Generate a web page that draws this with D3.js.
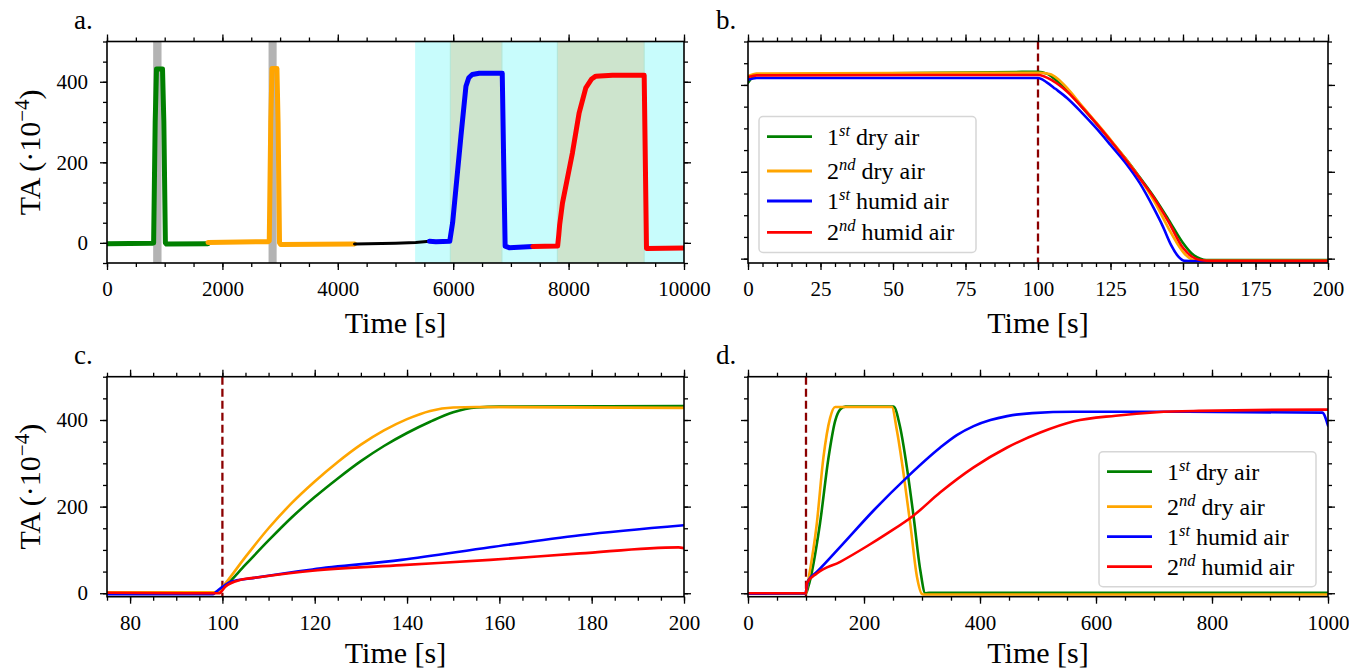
<!DOCTYPE html>
<html><head><meta charset="utf-8">
<script src="https://cdn.jsdelivr.net/npm/d3@7"></script>
<style>html,body{margin:0;padding:0;background:#fff;}svg{display:block;}</style>
</head><body>
<svg id="chart" width="1349" height="671"></svg>
<script>
// ---------------- DATA ----------------
const seriesNames = ["1st dry air", "2nd dry air", "1st humid air", "2nd humid air"];
const seriesColors = ["green", "orange", "blue", "red"];
const legendNums = ["1", "2", "1", "2"];
const legendOrd = ["st", "nd", "st", "nd"];
const legendRest = ["dry air", "dry air", "humid air", "humid air"];

// panel a: full experiment
const aGreenT = [0, 790, 808, 835, 858, 962, 985, 1012, 1030, 1750];
const aGreenV = [-2, -1, 0, 300, 432, 432, 300, 0, -3, -2];
const aOrangeT = [1750, 2795, 2812, 2838, 2860, 2945, 2965, 2990, 3010, 4290];
const aOrangeV = [1, 3, 5, 300, 433, 433, 300, 0, -4, -3];
const aBlackT = [4290, 5000, 5350, 5590];
const aBlackV = [-3, -1, 1, 4];
const aBlueT = [5590, 5700, 5940, 5990, 6134, 6221, 6270, 6330, 6451, 6850, 6875, 6900, 6970, 7380];
const aBlueV = [4, 3, 4, 50, 265, 389, 410, 418, 421, 421, 200, -8, -12, -9];
const aRedT = [7380, 7810, 7830, 7845, 7894, 8067, 8183, 8298, 8400, 8471, 8760, 9310, 9330, 9350, 10000];
const aRedV = [-9, -8, 20, 45, 99, 224, 323, 385, 407, 414, 416, 416, 200, -14, -13];
const aGrayBands = [[800, 945], [2800, 2940]];
const aCyanBands = [[5340, 10000]];
const aGreenBands = [[5950, 6845], [7805, 9310]];
const aXMajor = [0, 2000, 4000, 6000, 8000, 10000];
const aYMajor = [0, 200, 400];

// panel b: decay, 0..200 s
const bGreenT = [0, 3, 100, 103, 106, 110, 115, 120, 125, 130, 135, 140, 145, 150, 153, 156, 158, 200];
const bGreenV = [405, 424, 430, 426, 412, 388, 350, 312, 272, 232, 188, 142, 90, 36, 12, 0, -3, -3];
const bOrangeT = [0, 3, 100, 104, 107, 110, 115, 120, 125, 130, 135, 140, 145, 148, 151, 153.5, 157, 200];
const bOrangeV = [420, 426, 428, 425, 413, 393, 353, 314, 274, 232, 186, 133, 70, 35, 8, -3, -5, -5];
const bBlueT = [0, 3, 100, 103, 106, 110, 115, 120, 125, 130, 135, 140, 143, 146, 148.5, 150.5, 155, 200];
const bBlueV = [412, 416, 416, 406, 391, 370, 337, 301, 262, 222, 175, 115, 75, 30, 4, -5, -6, -6];
const bRedT = [0, 3, 100, 105, 110, 115, 120, 125, 130, 135, 140, 145, 150, 153, 156, 160, 200];
const bRedV = [418, 422, 423, 410, 385, 350, 312, 272, 230, 186, 140, 85, 25, 5, -3, -5, -5];
const bXMajor = [0, 25, 50, 75, 100, 125, 150, 175, 200];

// panel c: rise, 75..200 s
const cGreenT = [75, 99, 100, 105, 110, 115, 120, 125, 130, 135, 140, 145, 150, 155, 160, 200];
const cGreenV = [1, 1, 10, 66, 122, 175, 222, 265, 305, 340, 370, 396, 418, 429, 431, 432];
const cOrangeT = [75, 99, 100, 105, 110, 115, 120, 125, 130, 135, 140, 145, 150, 155, 200];
const cOrangeV = [2, 2, 14, 84, 150, 208, 258, 303, 343, 376, 402, 421, 429, 430, 428];
const cBlueT = [75, 98, 98.7, 102, 106, 119.5, 138.8, 158, 177.5, 200];
const cBlueV = [-2, -2, 4, 27, 34, 55, 77, 106, 134, 157];
const cRedT = [75, 99.3, 100.6, 104, 107.9, 119.5, 138.8, 158, 177.5, 198.8, 200];
const cRedV = [1, 0, 15, 31, 37, 52, 65, 77, 92, 106, 104];
const cXMajor = [80, 100, 120, 140, 160, 180, 200];

// panel d: rise and fall, 0..1000 s
const dGreenT = [0, 100, 104, 124, 138.8, 150.3, 159, 168, 251, 262.5, 274, 285.6, 297, 305.7, 312, 1000];
const dGreenV = [0, 0, 15, 160, 313, 398, 424.5, 431, 431, 382, 290, 176, 53.5, 0, 1, 1];
const dOrangeT = [0, 100, 101, 118.6, 130, 141.6, 150.3, 248, 256.8, 268.3, 279.8, 291.3, 300, 306, 1000];
const dOrangeV = [0, 0, 7.6, 160.5, 313, 405, 430, 430, 375, 275, 160, 38, -1.6, -3, -3];
const dBlueT = [0, 98.5, 104, 118.6, 159, 216.5, 274, 331.6, 360, 389, 418, 446.8, 490, 562, 700, 990, 1000];
const dBlueV = [-1, -0.5, 30, 49, 107, 191, 267.6, 336.5, 365, 386, 400, 409, 416, 419, 419, 417, 387];
const dRedT = [0, 100, 101.3, 118.6, 159, 205, 239.5, 285.6, 331.6, 389, 446.8, 504, 562, 634, 705, 777, 993, 1000];
const dRedV = [0, 0, 23, 45.8, 72.6, 108.5, 137.6, 179.7, 233, 290.6, 336.5, 371, 397, 410, 418, 421, 424, 424];
const dXMajor = [0, 200, 400, 600, 800, 1000];

const yMajorBCD = [0, 200, 400];
const switchTime = 100;

// ---------------- DRAWING ----------------
const svg = d3.select("#chart");
const FONT = "Liberation Serif, Times New Roman, serif";
let clipId = 0;

function range(a, b, s) { const r = []; for (let v = a; v <= b + 1e-9; v += s) r.push(+v.toFixed(6)); return r; }

function makePanel(o) {
  const x = d3.scaleLinear().domain(o.xDomain).range([o.x0, o.x1]);
  const y = d3.scaleLinear().domain(o.yDomain).range([o.y1, o.y0]);
  const g = svg.append("g");
  const id = "clip" + (clipId++);
  svg.append("clipPath").attr("id", id).append("rect")
    .attr("x", o.x0).attr("y", o.y0).attr("width", o.x1 - o.x0).attr("height", o.y1 - o.y0);
  const bg = g.append("g").attr("clip-path", `url(#${id})`);
  const plot = g.append("g").attr("clip-path", `url(#${id})`);
  const axes = g.append("g");
  const styleAxis = (sel) => {
    sel.attr("font-family", FONT).attr("font-size", 21);
    sel.select(".domain").remove();
    sel.selectAll(".tick line").attr("stroke-width", 1.3);
    sel.selectAll(".tick text").attr("fill", "#000");
  };
  const fmt = d3.format("d");
  axes.append("g").attr("transform", `translate(0,${o.y1})`)
    .call(d3.axisBottom(x).tickValues(o.xMinor).tickSize(4).tickFormat("")).call(styleAxis);
  axes.append("g").attr("transform", `translate(0,${o.y1})`)
    .call(d3.axisBottom(x).tickValues(o.xMajor).tickSize(7).tickPadding(11).tickFormat(fmt)).call(styleAxis);
  axes.append("g").attr("transform", `translate(0,${o.y0})`)
    .call(d3.axisTop(x).tickValues(o.xMinor).tickSize(4).tickFormat("")).call(styleAxis);
  axes.append("g").attr("transform", `translate(0,${o.y0})`)
    .call(d3.axisTop(x).tickValues(o.xMajor).tickSize(7).tickFormat("")).call(styleAxis);
  axes.append("g").attr("transform", `translate(${o.x0},0)`)
    .call(d3.axisLeft(y).tickValues(o.yMinor).tickSize(4).tickFormat("")).call(styleAxis);
  axes.append("g").attr("transform", `translate(${o.x0},0)`)
    .call(d3.axisLeft(y).tickValues(o.yMajor).tickSize(7).tickPadding(12).tickFormat(o.yLabels ? fmt : "")).call(styleAxis);
  axes.append("g").attr("transform", `translate(${o.x1},0)`)
    .call(d3.axisRight(y).tickValues(o.yMinor).tickSize(4).tickFormat("")).call(styleAxis);
  axes.append("g").attr("transform", `translate(${o.x1},0)`)
    .call(d3.axisRight(y).tickValues(o.yMajor).tickSize(7).tickFormat("")).call(styleAxis);
  axes.append("rect").attr("x", o.x0).attr("y", o.y0).attr("width", o.x1 - o.x0).attr("height", o.y1 - o.y0)
    .attr("fill", "none").attr("stroke", "#000").attr("stroke-width", 1.6);
  axes.append("text").attr("x", (o.x0 + o.x1) / 2).attr("y", o.y1 + o.titleGap).attr("text-anchor", "middle")
    .attr("font-family", FONT).attr("font-size", 30).text("Time [s]");
  axes.append("text").attr("x", o.letterX).attr("y", o.y0 - 13).attr("font-family", FONT).attr("font-size", 27).text(o.letter);
  if (o.yLabels) {
    const t = axes.append("text").attr("transform", `translate(40,${(o.y0 + o.y1) / 2}) rotate(-90)`)
      .attr("text-anchor", "middle").attr("font-family", FONT).attr("font-size", 30);
    t.append("tspan").text("TA (·10");
    t.append("tspan").attr("dy", -11).attr("font-size", 21).text("−4");
    t.append("tspan").attr("dy", 11).text(")");
  }
  return { x, y, bg, plot, axes, o };
}

function drawLine(p, ts, vs, color, width, curve) {
  const pts = ts.map((t, i) => [t, vs[i]]);
  p.plot.append("path").datum(pts)
    .attr("d", d3.line().x(d => p.x(d[0])).y(d => p.y(d[1])).curve(curve))
    .attr("fill", "none").attr("stroke", color).attr("stroke-width", width)
    .attr("stroke-linejoin", "round").attr("stroke-linecap", "round");
}

function drawBands(p, bands, color, edge) {
  p.bg.selectAll(null).data(bands).enter().append("rect")
    .attr("x", d => p.x(d[0])).attr("width", d => p.x(d[1]) - p.x(d[0]))
    .attr("y", p.o.y0).attr("height", p.o.y1 - p.o.y0).attr("fill", color)
    .attr("stroke", edge || "none").attr("stroke-width", 1);
}

function drawSwitch(p) {
  p.plot.append("line").attr("x1", p.x(switchTime)).attr("x2", p.x(switchTime))
    .attr("y1", p.o.y0).attr("y2", p.o.y1).attr("stroke", "#8b0000")
    .attr("stroke-width", 2.3).attr("stroke-dasharray", "8,4");
}

function drawLegend(p, lx, ly, lw, lh, rowY, lineX0, lineX1, textX) {
  const lg = p.axes.append("g");
  lg.append("rect").attr("x", lx).attr("y", ly).attr("width", lw).attr("height", lh).attr("rx", 4)
    .attr("fill", "#fff").attr("fill-opacity", 0.85).attr("stroke", "#d6d6d6").attr("stroke-width", 1.5);
  seriesNames.forEach((n, i) => {
    lg.append("line").attr("x1", lineX0).attr("x2", lineX1).attr("y1", rowY[i]).attr("y2", rowY[i])
      .attr("stroke", seriesColors[i]).attr("stroke-width", 2.8);
    const t = lg.append("text").attr("x", textX).attr("y", rowY[i] + 8).attr("font-family", FONT).attr("font-size", 24);
    t.append("tspan").text(legendNums[i]);
    t.append("tspan").attr("dy", -9).attr("font-size", 16.5).attr("font-style", "italic").text(legendOrd[i]);
    t.append("tspan").attr("dy", 9).text(" " + legendRest[i]);
  });
}

// ---- panel a
const pa = makePanel({ x0: 107, x1: 684, y0: 41.5, y1: 263, xDomain: [0, 10000], yDomain: [-50, 500],
  xMajor: aXMajor, xMinor: range(0, 10000, 500), yMajor: aYMajor, yMinor: range(-50, 500, 50),
  yLabels: true, letter: "a.", letterX: 74, titleGap: 70 });
drawBands(pa, aCyanBands, "#c8fcfc");
drawBands(pa, aGreenBands, "#cde4cd", "#b2e6d6");
drawBands(pa, aGrayBands, "#b3b3b3");
drawLine(pa, aGreenT, aGreenV, "green", 5, d3.curveLinear);
drawLine(pa, aOrangeT, aOrangeV, "orange", 5, d3.curveLinear);
drawLine(pa, aBlackT, aBlackV, "black", 3, d3.curveLinear);
drawLine(pa, aBlueT, aBlueV, "blue", 5, d3.curveLinear);
drawLine(pa, aRedT, aRedV, "red", 5, d3.curveLinear);

// ---- panel b
const pb = makePanel({ x0: 748, x1: 1328, y0: 41.5, y1: 263, xDomain: [0, 200], yDomain: [-10, 500],
  xMajor: bXMajor, xMinor: range(0, 200, 5), yMajor: yMajorBCD, yMinor: range(0, 500, 50),
  yLabels: false, letter: "b.", letterX: 716, titleGap: 70 });
drawSwitch(pb);
drawLine(pb, bGreenT, bGreenV, "green", 2.6, d3.curveMonotoneX);
drawLine(pb, bOrangeT, bOrangeV, "orange", 2.6, d3.curveMonotoneX);
drawLine(pb, bBlueT, bBlueV, "blue", 2.6, d3.curveMonotoneX);
drawLine(pb, bRedT, bRedV, "red", 2.6, d3.curveMonotoneX);
drawLegend(pb, 759, 116.5, 217, 136, [136.7, 171, 201, 232.3], 767, 812, 827);

// ---- panel c
const pc = makePanel({ x0: 107, x1: 684, y0: 376.7, y1: 596.7, xDomain: [75, 200], yDomain: [-8, 500],
  xMajor: cXMajor, xMinor: range(75, 200, 5), yMajor: yMajorBCD, yMinor: range(0, 500, 50),
  yLabels: true, letter: "c.", letterX: 74, titleGap: 66 });
drawSwitch(pc);
drawLine(pc, cGreenT, cGreenV, "green", 2.6, d3.curveMonotoneX);
drawLine(pc, cOrangeT, cOrangeV, "orange", 2.6, d3.curveMonotoneX);
drawLine(pc, cBlueT, cBlueV, "blue", 2.6, d3.curveMonotoneX);
drawLine(pc, cRedT, cRedV, "red", 2.6, d3.curveMonotoneX);

// ---- panel d
const pd = makePanel({ x0: 748, x1: 1328, y0: 376.7, y1: 596.7, xDomain: [0, 1000], yDomain: [-8, 500],
  xMajor: dXMajor, xMinor: range(0, 1000, 50), yMajor: yMajorBCD, yMinor: range(0, 500, 50),
  yLabels: false, letter: "d.", letterX: 716, titleGap: 66 });
drawSwitch(pd);
drawLine(pd, dGreenT, dGreenV, "green", 2.6, d3.curveMonotoneX);
drawLine(pd, dOrangeT, dOrangeV, "orange", 2.6, d3.curveMonotoneX);
drawLine(pd, dBlueT, dBlueV, "blue", 2.6, d3.curveMonotoneX);
drawLine(pd, dRedT, dRedV, "red", 2.6, d3.curveMonotoneX);
drawLegend(pd, 1099, 451.7, 217, 135, [471.7, 506.7, 536.7, 566.7], 1107, 1152, 1167);
</script>
</body></html>
